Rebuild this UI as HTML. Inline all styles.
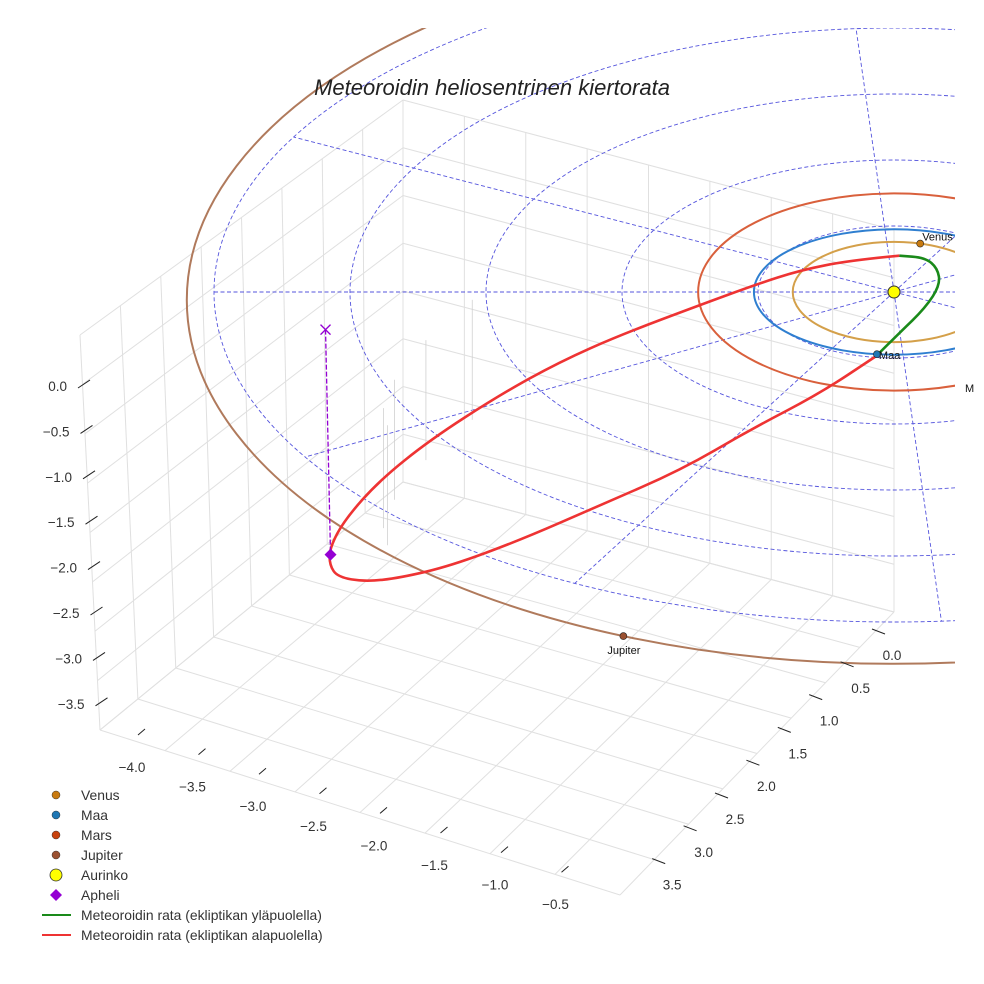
<!DOCTYPE html>
<html><head><meta charset="utf-8"><style>
html,body{margin:0;padding:0;background:#fff;}
svg{display:block;font-family:"Liberation Sans",sans-serif;}
</style></head><body>
<svg id="chart" width="984" height="984" viewBox="0 0 984 984" xmlns="http://www.w3.org/2000/svg">
<defs><clipPath id="clip"><rect x="0" y="28" width="955" height="956"/></clipPath></defs>
<g id="grid"></g>
<g id="plot" clip-path="url(#clip)"></g>
<g id="ticks"></g>
<text x="492" y="95" text-anchor="middle" font-size="22" font-style="italic" fill="#222">Meteoroidin heliosentrinen kiertorata</text>
<g id="legend"></g>
</svg>
<script>
// ---- data ----
const zTicks=["0.0","\u22120.5","\u22121.0","\u22121.5","\u22122.0","\u22122.5","\u22123.0","\u22123.5"];
const xTicks=["\u22124.0","\u22123.5","\u22123.0","\u22122.5","\u22122.0","\u22121.5","\u22121.0","\u22120.5"];
const yTicks=["0.0","0.5","1.0","1.5","2.0","2.5","3.0","3.5"];
const planetNames=["Venus","Maa","Mars","Jupiter"];
const planetRadii=[0.723,1.0,1.524,5.2];
const planetAngles=[-75,97,0,112.5];
const planetColors=["#d4a04a","#2f7fd0","#d9603c","#b07a5c"];
const dotColors=["#c87a10","#1f77b4","#c8420e","#9a5030"];
const redU=[0.04,-0.32,-0.69,-1.02,-1.43,-2.01,-2.46,-2.90,-3.41,-3.78,-4.04,-4.15,-4.15,-4.09,-3.89,-3.63,-3.26,-2.75,-2.16,-1.57,-1.06,-0.54,-0.13];
const redV=[-0.55,-0.48,-0.33,-0.11,0.20,0.65,1.06,1.56,2.24,2.85,3.45,3.88,4.14,4.32,4.39,4.33,4.15,3.76,3.23,2.70,2.09,1.53,0.97];
const greenU=[-0.13,0.04,0.23,0.34,0.32,0.23,0.04];
const greenV=[0.97,0.62,0.24,-0.11,-0.36,-0.52,-0.55];
const gridRadii=[1,2,3,4,5];
const radialAngles=[0,28,86,118,150,180,208,266,298,330];
const apheliU=-4.18, apheliV=0.57, apheliDrop=225;

// ---- projection ----
const CX=894, CY=292, SX=136, SY=66;
const FX=[1.03,1.03,0.945,1.0], FY=[1.05,0.95,0.98,1.06], DCY=[0,0,0,8];
function px(u){return CX+SX*u;}
function py(v){return CY+SY*v;}
const NS="http://www.w3.org/2000/svg";
function mk(tag,parent,attrs){const e=document.createElementNS(NS,tag);for(const k in attrs)e.setAttribute(k,attrs[k]);parent.appendChild(e);return e;}
const grid=document.getElementById('grid'),plot=document.getElementById('plot'),ticks=document.getElementById('ticks'),legend=document.getElementById('legend');
function lerp(a,b,t){return [a[0]+(b[0]-a[0])*t,a[1]+(b[1]-a[1])*t];}

// ---- box grid ----
const LT=[80,335],LB=[100,730],BT=[403,100],BB=[403,482],RB=[894,612],RT=[894,230],FR=[620,895];
const gs={stroke:"#e0e0e0","stroke-width":1,fill:"none"};
function gl(a,b,name){const l=mk('line',grid,Object.assign({x1:a[0],y1:a[1],x2:b[0],y2:b[1]},gs));}
for(let i=0;i<=8;i++){const t=i/8;
 gl(lerp(LT,LB,t),lerp(BT,BB,t),'wall-gridline');
 gl(lerp(LT,BT,t),lerp(LB,BB,t),'wall-gridline');
 gl(lerp(BT,BB,t),lerp(RT,RB,t),'back-gridline');
 gl(lerp(BT,RT,t),lerp(BB,RB,t),'back-gridline');
 gl(lerp(LB,FR,t),lerp(BB,RB,t),'floor-gridline');
 gl(lerp(LB,BB,t),lerp(FR,RB,t),'floor-gridline');
}

// ---- ecliptic dashed grid ----
gridRadii.forEach(r=>{const e=mk('ellipse',plot,{cx:CX,cy:CY,rx:SX*r,ry:SY*r,fill:"none",stroke:"#5555dd","stroke-width":0.9,"stroke-dasharray":"4 2.5"});
 });
radialAngles.forEach(a=>{const r=5,rad=a*Math.PI/180;const e=mk('line',plot,{x1:CX,y1:CY,x2:px(r*Math.cos(rad)),y2:py(r*Math.sin(rad)),stroke:"#5555dd","stroke-width":0.9,"stroke-dasharray":"4 2.5"});
 });

// ---- stems ----
for(let i=8;i<13;i++){const x=px(redU[i])+10+i*4,y=py(redV[i])-20;const e=mk('line',plot,{x1:x,y1:y,x2:x,y2:y-120,stroke:"#d0d0d0","stroke-width":0.8});
 }

// ---- planet orbits ----
planetRadii.forEach((r,i)=>{const e=mk('ellipse',plot,{cx:CX,cy:CY+DCY[i],rx:SX*r*FX[i],ry:SY*r*FY[i],fill:"none",stroke:planetColors[i],"stroke-width":2});
 });

// ---- meteoroid path (smoothed) ----
function pathD(U,V){const P=U.map((u,i)=>[px(u),py(V[i])]);let d='M'+P[0][0].toFixed(1)+' '+P[0][1].toFixed(1);
 for(let i=1;i<P.length-1;i++){const m=[(P[i][0]+P[i+1][0])/2,(P[i][1]+P[i+1][1])/2];d+=' Q'+P[i][0].toFixed(1)+' '+P[i][1].toFixed(1)+' '+m[0].toFixed(1)+' '+m[1].toFixed(1);}
 const L=P[P.length-1];return d+' L'+L[0].toFixed(1)+' '+L[1].toFixed(1);}
let e=mk('path',plot,{d:pathD(redU,redV),fill:"none",stroke:"#ee3333","stroke-width":2.6,"stroke-linejoin":"round"});

e=mk('path',plot,{d:pathD(greenU,greenV),fill:"none",stroke:"#1a8a1a","stroke-width":2.6,"stroke-linejoin":"round"});


// ---- aphelion ----
const ax=px(apheliU),ay=py(apheliV);
e=mk('line',plot,{x1:ax,y1:ay,x2:ax+5,y2:ay+apheliDrop,stroke:"#9400d3","stroke-width":1.3,"stroke-dasharray":"5 2"});

e=mk('path',plot,{d:`M${ax-5} ${ay-5}L${ax+5} ${ay+5}M${ax+5} ${ay-5}L${ax-5} ${ay+5}`,stroke:"#9400d3","stroke-width":1.3});

const dx=ax+5,dy=ay+apheliDrop;
e=mk('path',plot,{d:`M${dx} ${dy-6}L${dx+6} ${dy}L${dx} ${dy+6}L${dx-6} ${dy}Z`,fill:"#9400d3"});


// ---- planets ----
const labelOff=[[2,-3],[2,5],[0,0],[-16,18]];
planetRadii.forEach((r,i)=>{if(i==2)return;const rad=planetAngles[i]*Math.PI/180;
 const x=CX+SX*r*FX[i]*Math.cos(rad),y=CY+DCY[i]+SY*r*FY[i]*Math.sin(rad);
 let c=mk('circle',plot,{cx:x,cy:y,r:3.5,fill:dotColors[i],stroke:"#222","stroke-width":0.6});
 
 let t=mk('text',plot,{x:x+labelOff[i][0],y:y+labelOff[i][1],"font-size":11,fill:"#111"});t.textContent=planetNames[i];
 });
let mt=mk('text',ticks,{x:965,y:392,"font-size":11,fill:"#111"});mt.textContent="M";

e=mk('circle',plot,{cx:CX,cy:CY,r:6,fill:"#ffff00",stroke:"#333","stroke-width":1});


// ---- ticks ----
zTicks.forEach((s,i)=>{const y=385+i*45.4,x=84+i*2.5;
 let l=mk('line',ticks,{x1:x-6,y1:y+3,x2:x+6,y2:y-5,stroke:"#222","stroke-width":1});
 let t=mk('text',ticks,{x:x-17,y:y+6,"text-anchor":"end","font-size":13.5,fill:"#333"});t.textContent=s;});
xTicks.forEach((s,i)=>{const x=130+i*60.5,y=767+i*19.6;
 let l=mk('line',ticks,{x1:x+8,y1:y-32,x2:x+15,y2:y-38,stroke:"#222","stroke-width":1});
 let t=mk('text',ticks,{x:x+2,y:y+5,"text-anchor":"middle","font-size":13.5,fill:"#333"});t.textContent=s;});
yTicks.forEach((s,i)=>{const x=892-i*31.4,y=655+i*32.8;
 let l=mk('line',ticks,{x1:x-20,y1:y-26,x2:x-7,y2:y-21,stroke:"#222","stroke-width":1});
 let t=mk('text',ticks,{x:x,y:y+5,"text-anchor":"middle","font-size":13.5,fill:"#333"});t.textContent=s;});

// ---- legend ----
const legLabels=["Venus","Maa","Mars","Jupiter","Aurinko","Apheli","Meteoroidin rata (ekliptikan yläpuolella)","Meteoroidin rata (ekliptikan alapuolella)"];
const legColors=["#c87a10","#1f77b4","#c8420e","#9a5030","#ffff00","#9400d3","#1a8a1a","#ee3333"];
legLabels.forEach((s,i)=>{const y=795+i*20;const g=mk('g',legend,{});
 
 if(i<4)mk('circle',g,{cx:56,cy:y,r:4,fill:legColors[i],stroke:"#333","stroke-width":0.5});
 else if(i==4)mk('circle',g,{cx:56,cy:y,r:6,fill:legColors[i],stroke:"#333","stroke-width":0.8});
 else if(i==5)mk('path',g,{d:`M56 ${y-6}L62 ${y}L56 ${y+6}L50 ${y}Z`,fill:legColors[i]});
 else mk('line',g,{x1:42,y1:y,x2:71,y2:y,stroke:legColors[i],"stroke-width":2});
 const t=mk('text',g,{x:81,y:y+5,"font-size":13.9,fill:"#333"});t.textContent=s;});
</script>
</body></html>
